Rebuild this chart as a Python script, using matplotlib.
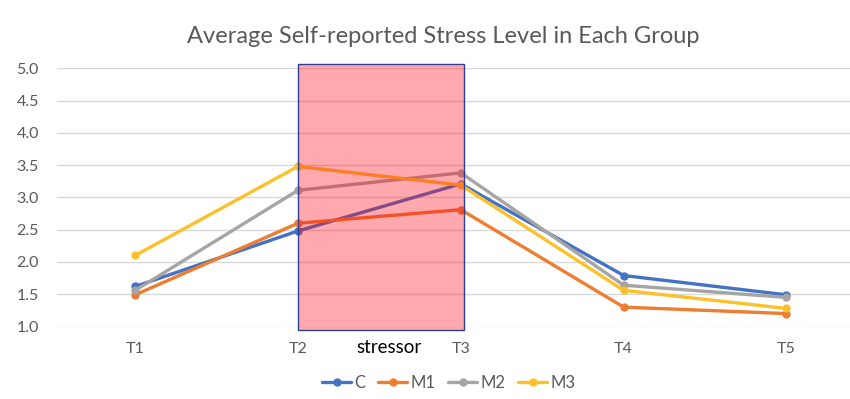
import matplotlib.pyplot as plt
from matplotlib.patches import Rectangle

plt.rcParams['font.family'] = ['Lato', 'DejaVu Sans']

times = ['T1', 'T2', 'T3', 'T4', 'T5']
c_vals = [1.62, 2.48, 3.21, 1.79, 1.49]
m1_vals = [1.49, 2.60, 2.81, 1.30, 1.20]
m2_vals = [1.56, 3.11, 3.38, 1.64, 1.45]
m3_vals = [2.10, 3.48, 3.19, 1.56, 1.28]
series_names = ['C', 'M1', 'M2', 'M3']
colors = ['#4472C4', '#ED7D31', '#A5A5A5', '#FBC12B']

fig = plt.figure(figsize=(8.5, 3.99), dpi=100)
ax = fig.add_axes([57 / 850, 0.1817, 1 - 57 / 850, 0.6471])

x = list(range(len(times)))
for vals, name, col in zip([c_vals, m1_vals, m2_vals, m3_vals], series_names, colors):
    ax.plot(x, vals, color=col, lw=2.4, marker='o', markersize=5, label=name,
            solid_capstyle='round', zorder=3)

# stressor window between T2 and T3
rect = Rectangle((1, 0.94), 1.02, 4.12, facecolor=(1.0, 0.0, 0.08, 0.34),
                 edgecolor='#2E3F95', lw=1.0, zorder=4, clip_on=False)
ax.add_patch(rect)
ax.text(1.56, -0.083, 'stressor', transform=ax.get_xaxis_transform(),
        ha='center', va='center', fontsize=13.5, color='black')

ax.set_xlim(-0.48, 4.39)
ax.set_ylim(1.0, 5.0)
ax.set_yticks([1.0, 1.5, 2.0, 2.5, 3.0, 3.5, 4.0, 4.5, 5.0])
ax.set_yticklabels([f'{v:.1f}' for v in ax.get_yticks()])
ax.set_xticks(x)
ax.set_xticklabels(times)
ax.tick_params(axis='both', length=0, labelsize=11.5, colors='#595959')
ax.tick_params(axis='x', pad=11)
ax.tick_params(axis='y', pad=13)
ax.grid(axis='y', color='#D9D9D9', lw=1)
ax.set_axisbelow(True)
for s in ax.spines.values():
    s.set_visible(False)

fig.suptitle('Average Self-reported Stress Level in Each Group', x=0.522, y=0.935,
             fontsize=17, color='#595959')
fig.legend(loc='center', bbox_to_anchor=(0.528, 0.04), ncol=4, frameon=False,
           fontsize=12, handlelength=1.7, handletextpad=0.2, columnspacing=0.8,
           labelcolor='#595959')

fig.savefig('out.png', dpi=100)
